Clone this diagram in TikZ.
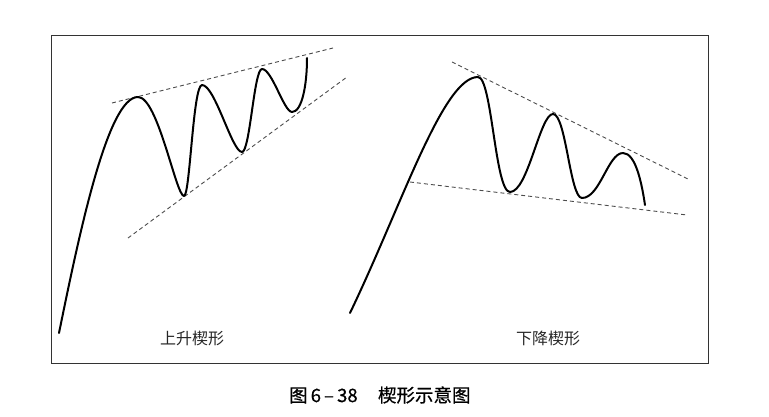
\documentclass[tikz,border=0pt]{standalone}
\usepackage{fontspec}
\newfontfamily\cjk{Noto Sans CJK SC}
\newfontfamily\cjkb[FakeBold=0.6]{Noto Sans CJK SC}
\tikzset{
  frame/.style={draw=black!80, line width=1.4pt},
  curve/.style={draw=black, line width=2pt, line join=round, line cap=round},
  guide/.style={draw=black!70, line width=0.9pt, dash pattern=on 4pt off 3pt},
  lbl/.style={font=\cjk\fontsize{16}{16}\selectfont, text=black!85, inner sep=0pt},
  captext/.style={font=\cjkb\fontsize{18.5}{18.5}\selectfont, text=black, inner sep=0pt}
}
\begin{document}
\begin{tikzpicture}[x=1pt,y=-1pt]
\useasboundingbox (0,0) rectangle (769,417);
% frame
\node[frame, minimum width=657pt, minimum height=328pt, inner sep=0pt, anchor=north west] (box) at (51,35) {};
% rising wedge guides
\coordinate (ru1) at (112,103); \coordinate (ru2) at (333,48);
\coordinate (rl1) at (128,238); \coordinate (rl2) at (347,77);
\draw[guide] (ru1) -- (ru2);
\draw[guide] (rl1) -- (rl2);
% rising wedge curve
\draw[curve] (59,333) .. controls (80,230) and (108,97) .. (138,97)
  .. controls (158,97) and (176,196) .. (184,196)
  .. controls (190,196) and (193,85) .. (202,85)
  .. controls (215,85) and (232,152) .. (242,152)
  .. controls (250,152) and (254,69) .. (262,69)
  .. controls (272,69) and (284,112) .. (292,112)
  .. controls (302,112) and (307,85) .. (307,58);
% falling wedge guides
\coordinate (fu1) at (452,62); \coordinate (fu2) at (690,180);
\coordinate (fl1) at (410,182); \coordinate (fl2) at (687,215);
\draw[guide] (fu1) -- (fu2);
\draw[guide] (fl1) -- (fl2);
% falling wedge curve
\draw[curve] (350,313) .. controls (402,205) and (443,77) .. (478,77)
  .. controls (492,77) and (495,192) .. (510,192)
  .. controls (528,192) and (540,114) .. (553,114)
  .. controls (566,114) and (570,198) .. (582,198)
  .. controls (600,198) and (608,153) .. (623,153)
  .. controls (636,153) and (642,185) .. (645,205);
% labels
\node[lbl] (up) at (192,338) {上升楔形};
\node[lbl] (down) at (548,338) {下降楔形};
\node[captext, anchor=west] (caption) at (289,395) {图\,6\,–\,38\hspace{1.1em}楔形示意图};
\end{tikzpicture}
\end{document}
